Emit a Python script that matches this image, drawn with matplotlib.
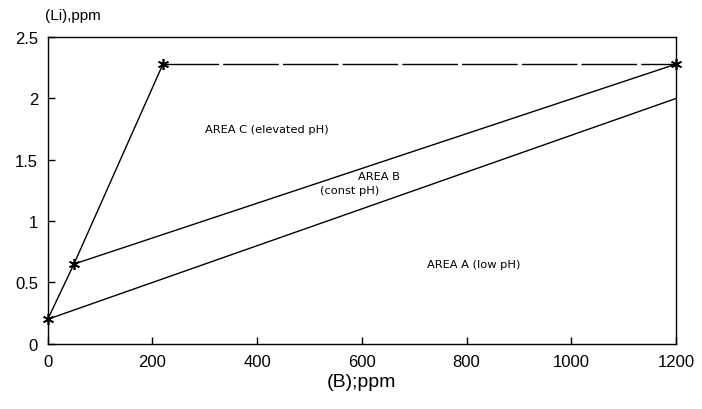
"""Li vs B regime diagram (areas A, B, C)."""

import matplotlib.pyplot as plt

# boundary lines, (B) ppm vs (Li) ppm
lower_b = [0, 1200]
lower_li = [0.2, 2.0]
middle_b = [50, 1200]
middle_li = [0.65, 2.28]
steep_b = [0, 50, 220]
steep_li = [0.2, 0.65, 2.28]
top_b = [220, 1200]
top_li = [2.28, 2.28]
star_b = [0, 50, 220, 1200]
star_li = [0.2, 0.65, 2.28, 2.28]

x_ticks = [0, 200, 400, 600, 800, 1000, 1200]
y_ticks = [0, 0.5, 1, 1.5, 2, 2.5]
y_tick_labels = ["0", "0.5", "1", "1.5", "2", "2.5"]


def main() -> None:
    plt.rcParams["font.family"] = ["Liberation Sans", "DejaVu Sans"]
    fig = plt.figure(figsize=(7.02, 4.10), dpi=100)
    ax = fig.add_axes([0.068, 0.159, 0.895, 0.748])

    line = dict(color="black", linewidth=1.0)
    ax.plot(lower_b, lower_li, **line)
    ax.plot(middle_b, middle_li, **line)
    ax.plot(steep_b, steep_li, **line)
    ax.plot(top_b, top_li, dashes=(40, 3), **line)
    ax.plot(star_b, star_li, linestyle="none", marker=(6, 2, 0),
            markersize=8, markeredgewidth=1.2, color="black", clip_on=False)

    note = dict(fontsize=8.2, va="center", family="DejaVu Sans")
    ax.text(300, 1.75, "AREA C (elevated pH)", **note)
    ax.text(592, 1.37, "AREA B", **note)
    ax.text(520, 1.25, "(const pH)", **note)
    ax.text(724, 0.65, "AREA A (low pH)", **note)

    ax.set_xlim(0, 1200)
    ax.set_ylim(0, 2.5)
    ax.set_xticks(x_ticks)
    ax.set_yticks(y_ticks, y_tick_labels)
    ax.tick_params(direction="in", length=5, width=1, labelsize=12, pad=7)
    for spine in ax.spines.values():
        spine.set_linewidth(1.0)

    ax.set_xlabel("(B);ppm", fontsize=14, labelpad=3)
    ax.text(-0.005, 1.05, "(Li),ppm", transform=ax.transAxes, fontsize=11,
            ha="left", va="bottom")

    fig.savefig("out.png", dpi=100)
    plt.close(fig)


if __name__ == "__main__":
    main()
